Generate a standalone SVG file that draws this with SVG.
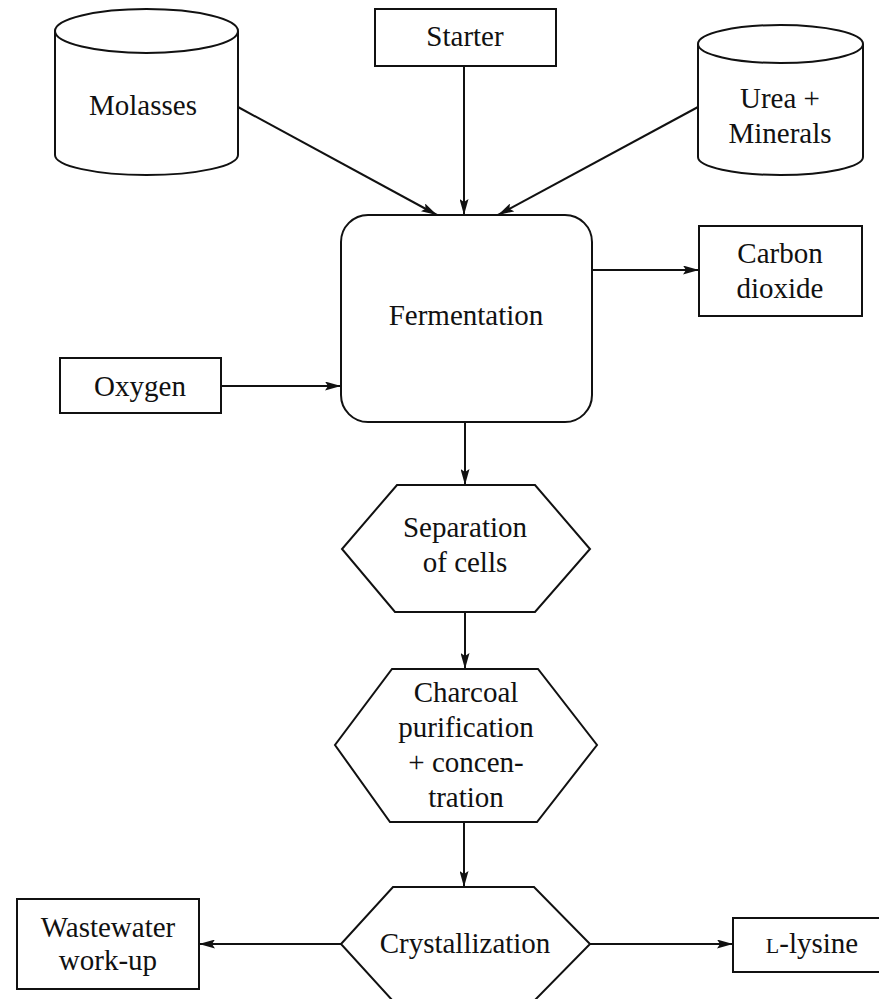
<svg xmlns="http://www.w3.org/2000/svg" width="879" height="999" viewBox="0 0 879 999">
<style>
.s{fill:#fff;stroke:#111;stroke-width:2}
.c{fill:none;stroke:#111;stroke-width:2}
.t{font-family:"Liberation Serif","Times New Roman",serif;font-size:29px;fill:#111;text-anchor:middle}
</style>
<defs>
<marker id="ah" viewBox="0 0 16 9" refX="16" refY="4.5" markerWidth="16" markerHeight="9" markerUnits="userSpaceOnUse" orient="auto">
<path d="M0,0 L16,4.5 L0,9 L3,4.5 z" fill="#111"/>
</marker>
</defs>
<rect width="879" height="999" fill="#fff"/>
<g id="connectors">
<line class="c" x1="238" y1="107" x2="437" y2="215" marker-end="url(#ah)"/>
<line class="c" x1="464" y1="66" x2="464" y2="215" marker-end="url(#ah)"/>
<line class="c" x1="698" y1="107" x2="498" y2="215" marker-end="url(#ah)"/>
<line class="c" x1="592" y1="270" x2="699" y2="270" marker-end="url(#ah)"/>
<line class="c" x1="221" y1="386" x2="341" y2="386" marker-end="url(#ah)"/>
<line class="c" x1="465" y1="422" x2="465" y2="485" marker-end="url(#ah)"/>
<line class="c" x1="465" y1="612" x2="465" y2="669" marker-end="url(#ah)"/>
<line class="c" x1="464" y1="822" x2="464" y2="887" marker-end="url(#ah)"/>
<line class="c" x1="341" y1="944" x2="199" y2="944" marker-end="url(#ah)"/>
<line class="c" x1="590" y1="944" x2="733" y2="944" marker-end="url(#ah)"/>
</g>
<g id="molasses">
<path class="s" d="M55,31 L55,155 A91.5,20 0 0 0 238,155 L238,31"/>
<ellipse class="s" cx="146.5" cy="31" rx="91.5" ry="22"/>
<text class="t" x="143" y="115">Molasses</text>
</g>
<g id="starter">
<rect class="s" x="375" y="9" width="181" height="57"/>
<text class="t" x="465" y="46">Starter</text>
</g>
<g id="urea">
<path class="s" d="M698,44 L698,157 A82.5,18 0 0 0 863,157 L863,44"/>
<ellipse class="s" cx="780.5" cy="44" rx="82.5" ry="19"/>
<text class="t" x="780" y="108">Urea +</text>
<text class="t" x="780" y="143">Minerals</text>
</g>
<g id="fermentation">
<rect class="s" x="341" y="215" width="251" height="207" rx="27" ry="27"/>
<text class="t" x="466" y="325">Fermentation</text>
</g>
<g id="carbon-dioxide">
<rect class="s" x="699" y="226" width="163" height="90"/>
<text class="t" x="780" y="263">Carbon</text>
<text class="t" x="780" y="298">dioxide</text>
</g>
<g id="oxygen">
<rect class="s" x="60" y="358" width="161" height="55"/>
<text class="t" x="140" y="396">Oxygen</text>
</g>
<g id="separation">
<polygon class="s" points="397,485 535,485 590,549 535,612 395,612 342,549"/>
<text class="t" x="465" y="537">Separation</text>
<text class="t" x="465" y="572">of cells</text>
</g>
<g id="charcoal">
<polygon class="s" points="392,669 538,669 597,745 537,822 390,822 335,745"/>
<text class="t" x="466" y="702">Charcoal</text>
<text class="t" x="466" y="737">purification</text>
<text class="t" x="466" y="772">+ concen-</text>
<text class="t" x="466" y="807">tration</text>
</g>
<g id="crystallization">
<polygon class="s" points="393,887 534,887 590,944 534,1001 393,1001 341,944"/>
<text class="t" x="465" y="953">Crystallization</text>
</g>
<g id="wastewater">
<rect class="s" x="17" y="899" width="182" height="90"/>
<text class="t" x="108" y="937">Wastewater</text>
<text class="t" x="108" y="970">work-up</text>
</g>
<g id="lysine">
<rect class="s" x="733" y="918" width="160" height="54"/>
<text class="t" x="812" y="953"><tspan font-size="22">L</tspan>-lysine</text>
</g>
</svg>
